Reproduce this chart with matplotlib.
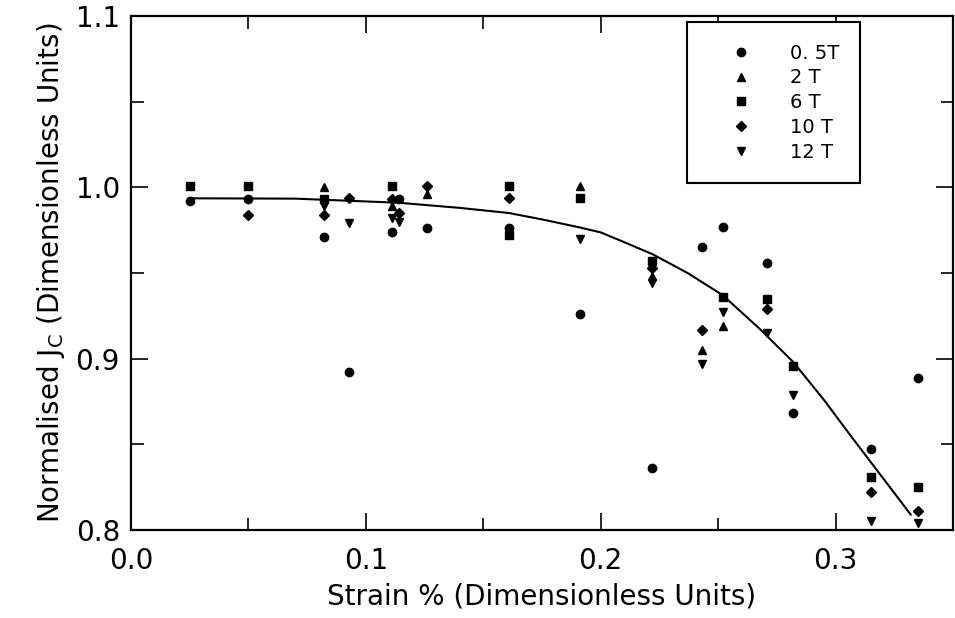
''' Normalised Jc versus strain, scatter by field with fitted curve '''

import matplotlib
matplotlib.use('Agg')
import matplotlib.pyplot as plt
from matplotlib.ticker import MultipleLocator

plt.rcParams['font.family'] = ['DejaVu Sans']
plt.rcParams['mathtext.default'] = 'regular'

# 0.5 T (circles)
x_05 = [0.025, 0.05, 0.082, 0.093, 0.111, 0.114, 0.126, 0.161, 0.191, 0.222, 0.243, 0.252, 0.271, 0.282, 0.315, 0.335]
y_05 = [0.992, 0.993, 0.971, 0.892, 0.974, 0.993, 0.976, 0.976, 0.926, 0.836, 0.965, 0.977, 0.956, 0.868, 0.847, 0.889]

# 2 T (triangles up)
x_2 = [0.082, 0.111, 0.126, 0.191, 0.222, 0.243, 0.252]
y_2 = [1.000, 0.989, 0.996, 1.001, 0.948, 0.905, 0.919]

# 6 T (squares)
x_6 = [0.025, 0.05, 0.082, 0.111, 0.161, 0.161, 0.191, 0.222, 0.252, 0.271, 0.282, 0.315, 0.335]
y_6 = [1.001, 1.001, 0.993, 1.001, 1.001, 0.972, 0.994, 0.957, 0.936, 0.935, 0.896, 0.831, 0.825]

# 10 T (diamonds)
x_10 = [0.05, 0.082, 0.093, 0.111, 0.114, 0.126, 0.161, 0.222, 0.243, 0.271, 0.315, 0.335]
y_10 = [0.984, 0.984, 0.994, 0.993, 0.985, 1.001, 0.994, 0.953, 0.917, 0.929, 0.822, 0.811]

# 12 T (triangles down)
x_12 = [0.082, 0.093, 0.111, 0.114, 0.191, 0.222, 0.243, 0.252, 0.271, 0.282, 0.315, 0.335]
y_12 = [0.989, 0.979, 0.982, 0.980, 0.970, 0.944, 0.897, 0.927, 0.915, 0.879, 0.805, 0.804]

# fitted curve
fit_x = [0.025, 0.07, 0.114, 0.14, 0.161, 0.176, 0.191, 0.20, 0.21, 0.222, 0.237, 0.252,
         0.268, 0.282, 0.295, 0.307, 0.332]
fit_y = [0.9936, 0.9934, 0.991, 0.988, 0.985, 0.981, 0.9766, 0.9737, 0.968, 0.961, 0.950, 0.937,
         0.917, 0.898, 0.876, 0.854, 0.809]

series = [
    (x_05, y_05, 'o', '0. 5T', 6),
    (x_2, y_2, '^', '2 T', 6),
    (x_6, y_6, 's', '6 T', 5.5),
    (x_10, y_10, 'D', '10 T', 5.5),
    (x_12, y_12, 'v', '12 T', 6),
]

fig = plt.figure(figsize=(9.55, 6.18), dpi=100)
ax = fig.add_axes([131/955, 88/618, 822/955, 514/618])

ax.plot(fit_x, fit_y, color='black', lw=1.5, zorder=2)
for xs, ys, m, lab, ms in series:
    ax.plot(xs, ys, ls='none', marker=m, ms=ms, color='black', label=lab, zorder=3)

ax.set_xlim(0.0, 0.35)
ax.set_ylim(0.8, 1.1)
ax.xaxis.set_minor_locator(MultipleLocator(0.05))
ax.yaxis.set_minor_locator(MultipleLocator(0.05))
ax.set_xticks([0.0, 0.1, 0.2, 0.3])
ax.set_xticklabels(['0.0', '0.1', '0.2', '0.3'])
ax.set_yticks([0.8, 0.9, 1.0, 1.1])
ax.set_yticklabels(['0.8', '0.9', '1.0', '1.1'])

ax.tick_params(which='both', direction='in', top=True, right=True, width=1.2,
               labelsize=20)
ax.tick_params(which='major', length=12)
ax.tick_params(which='minor', length=9)
ax.tick_params(axis='x', which='major', pad=12)
ax.tick_params(axis='y', which='major', pad=8)
for sp in ax.spines.values():
    sp.set_linewidth(1.6)

ax.set_xlabel('Strain % (Dimensionless Units)', fontsize=20, labelpad=6)
ax.set_ylabel('Normalised $J_C$ (Dimensionless Units)', fontsize=20, labelpad=6)

leg = ax.legend(loc='upper left', bbox_to_anchor=(0.676, 0.988), borderaxespad=0,
                fontsize=14, frameon=True, fancybox=False, numpoints=1,
                borderpad=1.1, handlelength=3.4, handletextpad=0.8,
                labelspacing=0.3)
leg.get_frame().set_edgecolor('black')
leg.get_frame().set_linewidth(1.5)
leg.get_frame().set_alpha(1)

fig.savefig('out.png', dpi=100)
